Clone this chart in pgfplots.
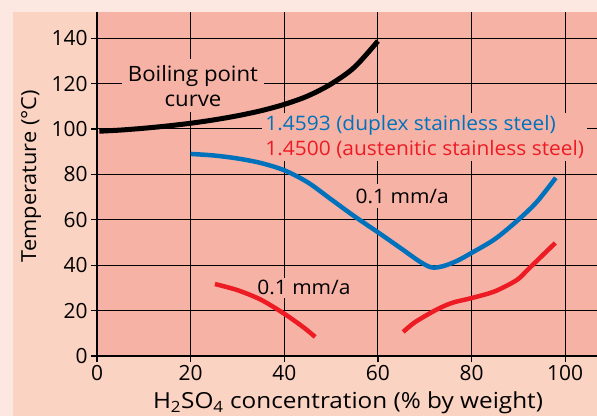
\documentclass[border=0pt]{standalone}
\usepackage{pgfplots}
\pgfplotsset{compat=1.18}
\usepackage{fontspec}
\setmainfont{Open Sans}
\newfontfamily\labfont{Open Sans}[FakeStretch=1.1]
\newfontfamily\txtfont{Open Sans}[FakeStretch=1.05]
\definecolor{pagebg}{HTML}{FCE8E1}
\definecolor{panel}{HTML}{FBD3C2}
\definecolor{plotbg}{HTML}{F7B2A6}
\definecolor{cblue}{HTML}{0072BC}
\definecolor{cred}{HTML}{ED1C24}
\begin{document}
\begin{tikzpicture}
\path[use as bounding box] (-97bp,-60bp) rectangle (500bp,356bp);
\fill[pagebg] (-97bp,-60bp) rectangle (500bp,356bp);
\fill[panel] (-84bp,-60bp) rectangle (500bp,344bp);
\begin{axis}[
  at={(0,0)}, anchor=south west,
  scale only axis, width=500bp, height=344bp,
  xmin=0, xmax=106.8, ymin=0, ymax=151.5,
  axis x line*=bottom, axis y line*=left,
  axis line style={-, line width=1.3bp, black},
  axis background/.style={fill=plotbg},
  xtick={0,20,40,60,80,100}, ytick={0,20,40,60,80,100,120,140},
  grid=major, grid style={black, line width=1bp},
  tick align=outside, major tick length=6bp,
  tick style={black, line width=1.2bp},
  /pgf/number format/assume math mode=true,
  ticklabel style={font=\fontsize{21}{24}\selectfont},
  xlabel={H\textsubscript{2}SO\textsubscript{4} concentration (\% by weight)},
  ylabel={Temperature (°C)},
  every axis x label/.style={at={(axis description cs:0.502,-0.137)}, anchor=center, font=\labfont\fontsize{22.2}{24}\selectfont},
  every axis y label/.style={at={(axis description cs:-0.132,0.523)}, rotate=90, anchor=center, font=\txtfont\fontsize{20.8}{24}\selectfont},
  clip=false,
]
\node[fill=plotbg, align=center, inner sep=6bp, font=\txtfont\fontsize{21.2}{25}\selectfont] at (axis cs:20.5,119) {Boiling point\\curve};
\node[fill=plotbg, align=left, anchor=west, inner sep=3bp, font=\txtfont\fontsize{20}{24.5}\selectfont] at (axis cs:35.3,96.5) {\textcolor{cblue}{1.4593 (duplex stainless steel)}\\\textcolor{cred}{1.4500 (austenitic stainless steel)}};
\node[fill=plotbg, inner sep=5bp, font=\txtfont\fontsize{20}{22}\selectfont] at (axis cs:65.2,70.5) {0.1 mm/a};
\node[fill=plotbg, inner sep=3bp, font=\txtfont\fontsize{20}{22}\selectfont] at (axis cs:44.2,30) {0.1 mm/a};
\addplot[black, line width=5bp, smooth] coordinates {
 (0.5,99) (5,99.5) (10,100.3) (15,101.3) (20,102.5) (25,104) (30,105.8) (35,108) (40,110.8) (45,114.5) (50,119.8) (55,127.2) (60,138.7)};
\addplot[cblue, line width=4.5bp, smooth] coordinates {
 (20,89) (25,88.3) (30,87) (35,85) (40,81.8) (45,76.5) (50,69) (55,61.5) (60,54.5) (65,47.3) (69,41.5) (71.5,39) (74,39.6) (77,42) (80,45.4) (85,51.5) (90,60) (94,68) (98,78.5)};
\addplot[cred, line width=4.5bp, smooth] coordinates {
 (25.2,31.7) (30,29) (35,24.8) (40,18.6) (44,12.8) (46.6,8.4)};
\addplot[cred, line width=4.5bp, smooth] coordinates {
 (65.4,10.6) (68,15) (72.6,20.5) (76,23.5) (80,25.5) (85,28.5) (89.7,33.5) (92,38) (95,44) (97.9,49.8)};
\end{axis}
\end{tikzpicture}
\end{document}
